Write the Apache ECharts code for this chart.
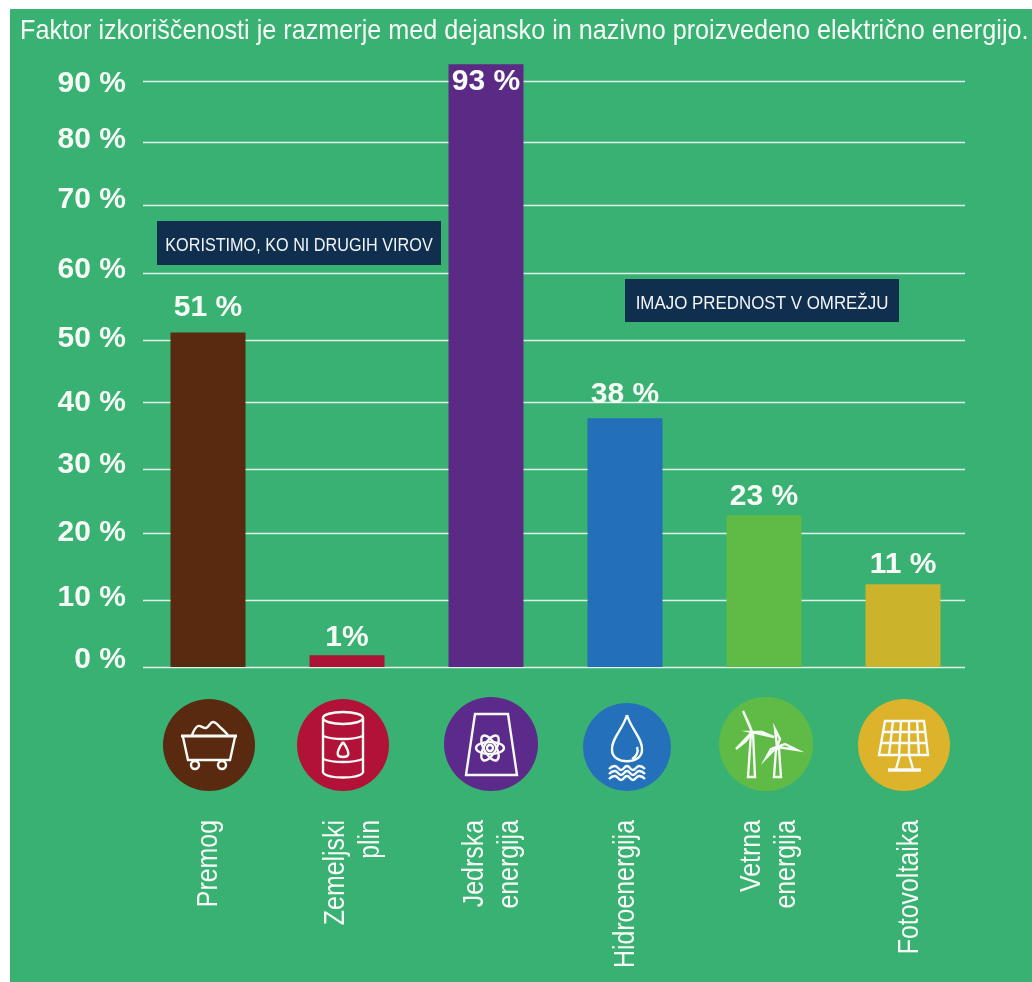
<!DOCTYPE html>
<html><head><meta charset="utf-8">
<style>html,body{margin:0;padding:0;background:#fff}#c{width:1032px;height:982px}</style>
<script src="https://cdn.jsdelivr.net/npm/echarts@6/dist/echarts.min.js"></script>
</head><body><div id="c"></div>
<script>
const titleText = 'Faktor izkoriščenosti je razmerje med dejansko in nazivno proizvedeno električno energijo.';
const categories = ['Premog', 'Zemeljski\nplin', 'Jedrska\nenergija', 'Hidroenergija', 'Vetrna\nenergija', 'Fotovoltaika'];
const barValues = [51.4, 1.8, 92.6, 38.2, 23.3, 12.7];
const barLabels = ['51 %', '1%', '93 %', '38 %', '23 %', '11 %'];
const barColors = ['#5a2a10', '#ad1237', '#5b2a85', '#2470b8', '#5fba46', '#ccb32c'];
const labelDistances = [10, 3, 3, 9, 4, 5];
const categoryShifts = [1, 6, 6, 1, 5, 7];
const tickLabels = ['0 %', '10 %', '20 %', '30 %', '40 %', '50 %', '60 %', '70 %', '80 %', '90 %'];
const gridValues = [0, 10.3, 20.6, 30.3, 40.6, 50.2, 60.5, 71, 80.6, 90];
const labelValues = [1.1, 10.6, 20.7, 31, 40.6, 50.5, 61, 71.7, 81, 89.6];
const notes = ['KORISTIMO, KO NI DRUGIH VIROV', 'IMAJO PREDNOST V OMREŽJU'];

const WHITE = '#f7fbf6';
const SANS = '"Liberation Sans",Arial,sans-serif';
const ln = {stroke: WHITE, lineWidth: 2.4, fill: 'transparent'};
const poly = (p, smooth) => ({type: 'polyline', shape: {points: p, smooth: smooth || 0}, style: ln});
const pgon = (p) => ({type: 'polygon', shape: {points: p}, style: ln});
const seg = (a, b, c, d, w) => ({type: 'line', shape: {x1: a, y1: b, x2: c, y2: d}, style: {stroke: WHITE, lineWidth: w || 2.4}});
const circ = (x, y, r) => ({type: 'circle', shape: {cx: x, cy: y, r}, style: ln});
const ell = (x, y, rx, ry, rot) => ({type: 'ellipse', x, y, rotation: rot || 0, shape: {cx: 0, cy: 0, rx, ry}, style: ln});
const curve = (x1, y1, a, b, c, d, x2, y2) => ({type: 'bezierCurve', shape: {x1, y1, cpx1: a, cpy1: b, cpx2: c, cpy2: d, x2, y2}, style: ln});
const wave = (y) => poly([[-18, y], [-12, y - 3], [-6, y + 1], [0, y - 3], [6, y + 1], [12, y - 3], [18, y]], 0.5);

const icons = [
  {x: 209, y: 745, r: 46, c: '#5a2a10', parts: [
    poly([[-26, -8], [-21, 15], [21, 15], [26, -8]]), seg(-28, -9, 28, -9, 2.8),
    poly([[-17, -10], [-11, -19], [-3, -17], [4, -23], [12, -17], [19, -10]], 0.4),
    circ(-14, 20, 4), circ(13, 20, 4)]},
  {x: 343, y: 745, r: 46, c: '#b31238', parts: [
    ell(0, -27, 20, 6), seg(-20, -27, -20, 28), seg(20, -27, 20, 28),
    curve(-20, 28, -14, 34, 14, 34, 20, 28), curve(-20, -9, -10, -5, 10, -5, 20, -9), curve(-20, 14, -10, 18, 10, 18, 20, 14),
    curve(0, -3, -9, 10, -5, 12, 0, 12), curve(0, -3, 9, 10, 5, 12, 0, 12)]},
  {x: 491, y: 744, r: 47, c: '#5b2a8b', parts: [
    pgon([[-16, -30], [17, -30], [26, 31], [-25, 31]]),
    ell(-1, 4, 14, 6, 0.0), ell(-1, 4, 14, 6, 1.05), ell(-1, 4, 14, 6, -1.05), circ(-1, 4, 3)]},
  {x: 627, y: 747, r: 44, c: '#2470bb', parts: [
    curve(0, -32, -4, -18, -16, -8, -15, 3), curve(0, -32, 4, -18, 16, -8, 15, 3),
    curve(-15, 3, -15, 18, 15, 18, 15, 3), curve(10, 0, 12, 5, 9, 10, 5, 12),
    wave(22), wave(27), wave(32)]},
  {x: 766, y: 744, r: 47, c: '#60bb46', parts: [
    pgon([[-15, -11], [-18, 33], [-11, 33], [-13, -11]]),
    pgon([[-14, -12], [-23, -33], [-17, -20]]), pgon([[-14, -12], [-30, 5], [-20, -3]]), pgon([[-14, -12], [8, -7], [-4, -12]]),
    pgon([[10, 5], [8, 33], [15, 33], [13, 5]]),
    pgon([[11, 3], [9, -15], [14, -5]]), pgon([[11, 3], [0, 14], [5, 5]]), pgon([[11, 3], [31, 6], [19, 0]])]},
  {x: 904, y: 745, r: 46, c: '#dcb32a', parts: [
    pgon([[-19, -24], [20, -24], [24, 10], [-25, 10]]),
    seg(-21, -13, 21, -13), seg(-23, -2, 23, -2),
    seg(-11, -24, -15, 10), seg(-3, -24, -5, 10), seg(5, -24, 5, 10), seg(13, -24, 15, 10),
    seg(-4, 10, -8, 24), seg(5, 10, 9, 24), seg(-16, 25, 17, 25, 3.5)]}
];
const iconGraphics = icons.map(i => ({type: 'group', x: i.x, y: i.y, children: [
  {type: 'circle', shape: {cx: 0, cy: 0, r: i.r}, style: {fill: i.c}}
].concat(i.parts)}));

const boxes = [{x: 157, y: 221, w: 284, h: 44, t: notes[0], sx: 0.853}, {x: 625, y: 279, w: 274, h: 43, t: notes[1], sx: 0.89}];
const boxGraphics = [];
boxes.forEach(b => {
  boxGraphics.push({type: 'rect', z: 5, shape: {x: b.x, y: b.y, width: b.w, height: b.h}, style: {fill: '#102f4e'}});
  boxGraphics.push({type: 'text', z: 6, x: b.x + b.w / 2, y: b.y + b.h / 2 + 3, scaleX: b.sx,
    style: {text: b.t, fill: '#f2f6f8', font: '19px ' + SANS, textAlign: 'center', textVerticalAlign: 'middle'}});
});
const titleGraphic = {type: 'text', z: 6, x: 20, y: 31, scaleX: 0.9,
  style: {text: titleText, fill: WHITE, font: '28px ' + SANS, textAlign: 'left', textVerticalAlign: 'middle'}};

const chart = echarts.init(document.getElementById('c'), null, {renderer: 'canvas'});
const baseOption = {
  animation: false,
  backgroundColor: '#ffffff',
  grid: {left: 138.5, width: 834, top: 16, height: 651, outerBoundsMode: 'none'},
  xAxis: {type: 'category', data: categories, axisLine: {show: false}, axisTick: {show: false}, axisLabel: {show: false}},
  yAxis: {type: 'value', min: 0, max: 100, offset: -4.5, splitLine: {show: false}, axisLine: {show: false},
    axisTick: {show: true, inside: true, length: 822, customValues: gridValues, lineStyle: {color: '#dff3e8', width: 1.4}},
    axisLabel: {customValues: labelValues, margin: 17, color: WHITE, fontSize: 30, fontWeight: 'bold', fontFamily: SANS,
      formatter: v => tickLabels[labelValues.indexOf(v)]}},
  series: [{type: 'bar', barWidth: 75, z: 3,
    data: barValues.map((v, i) => ({value: v, itemStyle: {color: barColors[i]},
      label: {show: true, position: i === 2 ? 'insideTop' : 'top', distance: labelDistances[i], formatter: barLabels[i],
        color: WHITE, fontSize: 30, fontWeight: 'bold', fontFamily: SANS}}))}]
};
chart.setOption(baseOption);
// Category names are placed from the category axis scale; the source's lettering is condensed along the text.
const categoryGraphics = categories.map((name, i) => ({type: 'text', z: 6,
  x: chart.convertToPixel({xAxisIndex: 0}, i) + categoryShifts[i], y: 820, rotation: Math.PI / 2, scaleX: 0.83,
  style: {text: name, fill: WHITE, font: '30px ' + SANS, lineHeight: 35, textAlign: 'right', textVerticalAlign: 'middle'}}));
chart.setOption({graphic: [{type: 'rect', z: -1, shape: {x: 10, y: 9, width: 1022, height: 973}, style: {fill: '#38b173'}}, titleGraphic]
  .concat(boxGraphics, iconGraphics, categoryGraphics)});
</script></body></html>
